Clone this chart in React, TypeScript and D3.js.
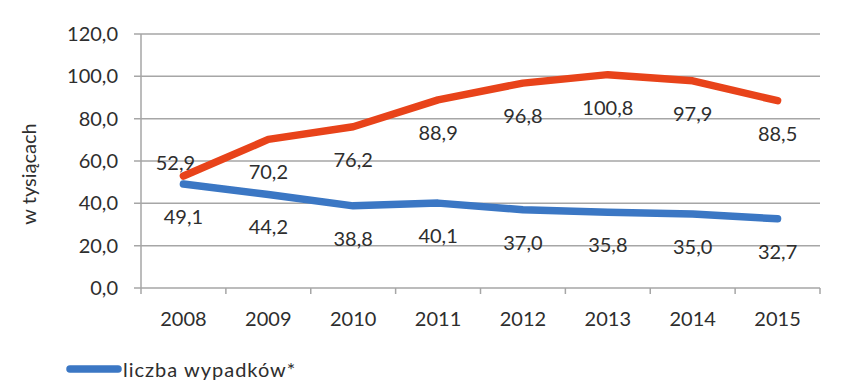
import React from "react";
import * as d3 from "d3";

const years = ["2008", "2009", "2010", "2011", "2012", "2013", "2014", "2015"];
const redSeries = [52.9, 70.2, 76.2, 88.9, 96.8, 100.8, 97.9, 88.5];
const blueSeries = [49.1, 44.2, 38.8, 40.1, 37.0, 35.8, 35.0, 32.7];
const yTicks = [0, 20, 40, 60, 80, 100, 120];
const legendLabel = "liczba wypadków*";
const yTitle = "w tysiącach";

const W = 848;
const H = 380;
const left = 141;
const right = 820;
const top = 34;
const bottom = 288;
const RED = "#E8431A";
const BLUE = "#3B77C4";
const GRID = "#A6A6A6";
const TEXT = "#2E2E2E";
const FONT = "Lato, 'Open Sans', sans-serif";

const fmt = (v: number) => d3.format(".1f")(v).replace(".", ",");

export default function App() {
  const x = d3.scaleBand<string>().domain(years).range([left, right]);
  const xc = (i: number) => (x(years[i]) as number) + x.bandwidth() / 2;
  const y = d3.scaleLinear().domain([0, 120]).range([bottom, top]);
  const line = d3
    .line<number>()
    .x((_, i) => xc(i))
    .y((d) => y(d));

  const redOffsets = redSeries.map((_, i) => (i === 0 ? { dx: -8, dy: -6 } : { dx: 0, dy: 40 }));

  return (
    <svg
      width={W}
      height={H}
      style={{ position: "absolute", left: 0, top: 0, background: "#fff" }}
      fontFamily={FONT}
    >
      {yTicks.map((t) => (
        <line key={t} x1={134} x2={right} y1={y(t)} y2={y(t)} stroke={GRID} strokeWidth={1.5} />
      ))}
      <line x1={left} x2={left} y1={top} y2={bottom} stroke={GRID} strokeWidth={1.5} />
      {years.map((yr) => (
        <line
          key={yr}
          x1={x(yr) as number}
          x2={x(yr) as number}
          y1={bottom}
          y2={bottom + 6}
          stroke={GRID}
          strokeWidth={1.5}
        />
      ))}
      <line x1={right} x2={right} y1={bottom} y2={bottom + 6} stroke={GRID} strokeWidth={1.5} />
      {yTicks.map((t) => (
        <text key={t} x={118} y={y(t) + 7} textAnchor="end" fontSize={20} fill={TEXT}>
          {fmt(t)}
        </text>
      ))}
      {years.map((yr, i) => (
        <text key={yr} x={xc(i)} y={326} textAnchor="middle" fontSize={20} fill={TEXT}>
          {yr}
        </text>
      ))}
      <text
        transform={`translate(${36},${174}) rotate(-90)`}
        textAnchor="middle"
        fontSize={20}
        fill={TEXT}
      >
        {yTitle}
      </text>
      <path
        d={line(blueSeries) as string}
        fill="none"
        stroke={BLUE}
        strokeWidth={7.5}
        strokeLinecap="round"
        strokeLinejoin="round"
      />
      <path
        d={line(redSeries) as string}
        fill="none"
        stroke={RED}
        strokeWidth={7.5}
        strokeLinecap="round"
        strokeLinejoin="round"
      />
      {redSeries.map((v, i) => (
        <text
          key={"r" + i}
          x={xc(i) + redOffsets[i].dx}
          y={y(v) + redOffsets[i].dy}
          textAnchor="middle"
          fontSize={20}
          fill={TEXT}
        >
          {fmt(v)}
        </text>
      ))}
      {blueSeries.map((v, i) => (
        <text key={"b" + i} x={xc(i)} y={y(v) + 40} textAnchor="middle" fontSize={20} fill={TEXT}>
          {fmt(v)}
        </text>
      ))}
      <line x1={70} x2={118} y1={369} y2={369} stroke={BLUE} strokeWidth={7.5} strokeLinecap="round" />
      <text x={123} y={377} fontSize={20} fill={TEXT} letterSpacing={1}>
        {legendLabel}
      </text>
    </svg>
  );
}
